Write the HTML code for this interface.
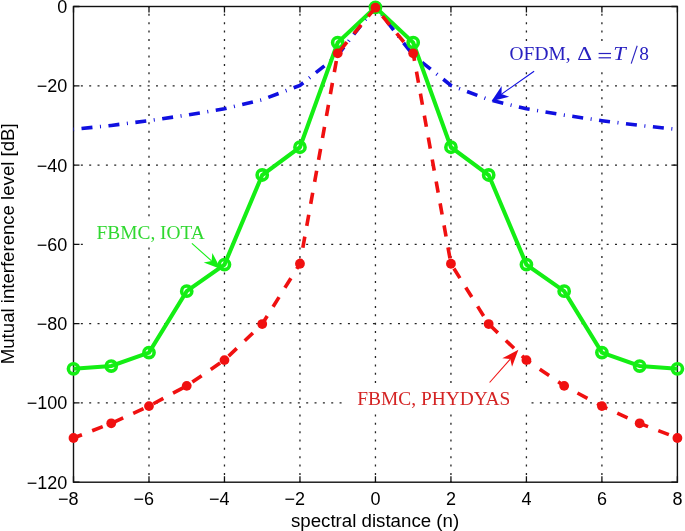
<!DOCTYPE html><html><head><meta charset="utf-8"><style>html,body{margin:0;padding:0;background:#fff;overflow:hidden}svg{display:block;will-change:transform}</style></head><body>
<svg width="685" height="531" viewBox="0 0 685 531">
<rect width="685" height="531" fill="#fff"/>
<g stroke="#222" stroke-width="1.3" stroke-dasharray="2 6.346" stroke-dashoffset="1" fill="none"><line x1="148.99" y1="6.5" x2="148.99" y2="482.2"/><line x1="224.47" y1="6.5" x2="224.47" y2="482.2"/><line x1="299.96" y1="6.5" x2="299.96" y2="482.2"/><line x1="375.45" y1="6.5" x2="375.45" y2="482.2"/><line x1="450.94" y1="6.5" x2="450.94" y2="482.2"/><line x1="526.42" y1="6.5" x2="526.42" y2="482.2"/><line x1="601.91" y1="6.5" x2="601.91" y2="482.2"/><line x1="73.5" y1="85.78" x2="677.4" y2="85.78"/><line x1="73.5" y1="165.07" x2="677.4" y2="165.07"/><line x1="73.5" y1="244.35" x2="677.4" y2="244.35"/><line x1="73.5" y1="323.63" x2="677.4" y2="323.63"/><line x1="73.5" y1="402.92" x2="677.4" y2="402.92"/></g>
<rect x="86" y="219" width="133" height="27.5" fill="#fff"/>
<rect x="345" y="386" width="184" height="25" fill="#fff"/>
<rect x="500" y="43" width="158" height="27" fill="#fff"/>
<path d="M73.50,482.2v-6M73.50,6.5v6M148.99,482.2v-6M148.99,6.5v6M224.47,482.2v-6M224.47,6.5v6M299.96,482.2v-6M299.96,6.5v6M375.45,482.2v-6M375.45,6.5v6M450.94,482.2v-6M450.94,6.5v6M526.42,482.2v-6M526.42,6.5v6M601.91,482.2v-6M601.91,6.5v6M677.40,482.2v-6M677.40,6.5v6M73.5,6.50h6M677.4,6.50h-6M73.5,85.78h6M677.4,85.78h-6M73.5,165.07h6M677.4,165.07h-6M73.5,244.35h6M677.4,244.35h-6M73.5,323.63h6M677.4,323.63h-6M73.5,402.92h6M677.4,402.92h-6M73.5,482.20h6M677.4,482.20h-6" stroke="#111" stroke-width="1.3" fill="none"/>
<rect x="73.5" y="6.5" width="603.90" height="475.70" stroke="#111" stroke-width="1.4" fill="none"/>
<g font-family="Liberation Sans" font-size="18" fill="#000"><text x="67.3" y="12.95" text-anchor="end">0</text><text x="67.3" y="92.23" text-anchor="end">&#8722;20</text><text x="67.3" y="171.52" text-anchor="end">&#8722;40</text><text x="67.3" y="250.80" text-anchor="end">&#8722;60</text><text x="67.3" y="330.08" text-anchor="end">&#8722;80</text><text x="67.3" y="409.37" text-anchor="end">&#8722;100</text><text x="67.3" y="488.65" text-anchor="end">&#8722;120</text><text x="68.50" y="504.8" text-anchor="end">&#8722;</text><text x="73.50" y="504.8" text-anchor="middle">8</text><text x="143.99" y="504.8" text-anchor="end">&#8722;</text><text x="148.99" y="504.8" text-anchor="middle">6</text><text x="219.47" y="504.8" text-anchor="end">&#8722;</text><text x="224.47" y="504.8" text-anchor="middle">4</text><text x="294.96" y="504.8" text-anchor="end">&#8722;</text><text x="299.96" y="504.8" text-anchor="middle">2</text><text x="375.45" y="504.8" text-anchor="middle">0</text><text x="450.94" y="504.8" text-anchor="middle">2</text><text x="526.42" y="504.8" text-anchor="middle">4</text><text x="601.91" y="504.8" text-anchor="middle">6</text><text x="677.40" y="504.8" text-anchor="middle">8</text></g>
<text x="375.05" y="527" text-anchor="middle" font-family="Liberation Sans" font-size="18.7" fill="#000">spectral distance (n)</text>
<text transform="translate(13.9,243.8) rotate(-90)" x="0" y="0" text-anchor="middle" font-family="Liberation Sans" font-size="18.6" fill="#000">Mutual interference level [dB]</text>
<polyline points="73.50,129.39 111.24,125.42 148.99,120.67 186.73,115.12 224.47,108.78 262.22,99.66 299.96,85.39 337.71,55.26 375.45,6.50 413.19,55.26 450.94,85.39 488.68,99.66 526.42,108.78 564.17,115.12 601.91,120.67 639.66,125.42 677.40,129.39" fill="none" stroke="#1010e0" stroke-width="3.6" stroke-dasharray="11 7.55 1 7.55" stroke-dashoffset="19.05"/>
<polyline points="73.50,368.82 111.24,366.05 148.99,352.57 186.73,291.13 224.47,264.57 262.22,174.98 299.96,147.23 337.71,42.57 375.45,7.29 413.19,42.57 450.94,147.23 488.68,174.98 526.42,264.57 564.17,291.13 601.91,352.57 639.66,366.05 677.40,368.82" fill="none" stroke="#14ee14" stroke-width="4.1" stroke-linejoin="miter"/>
<g fill="none" stroke="#14ee14" stroke-width="3.6"><circle cx="73.50" cy="368.82" r="5.1"/><circle cx="111.24" cy="366.05" r="5.1"/><circle cx="148.99" cy="352.57" r="5.1"/><circle cx="186.73" cy="291.13" r="5.1"/><circle cx="224.47" cy="264.57" r="5.1"/><circle cx="262.22" cy="174.98" r="5.1"/><circle cx="299.96" cy="147.23" r="5.1"/><circle cx="337.71" cy="42.57" r="5.1"/><circle cx="375.45" cy="7.29" r="5.1"/><circle cx="413.19" cy="42.57" r="5.1"/><circle cx="450.94" cy="147.23" r="5.1"/><circle cx="488.68" cy="174.98" r="5.1"/><circle cx="526.42" cy="264.57" r="5.1"/><circle cx="564.17" cy="291.13" r="5.1"/><circle cx="601.91" cy="352.57" r="5.1"/><circle cx="639.66" cy="366.05" r="5.1"/><circle cx="677.40" cy="368.82" r="5.1"/></g>
<polyline points="73.50,438.00 111.24,423.33 148.99,406.09 186.73,385.87 224.47,360.10 262.22,324.03 299.96,263.77 337.71,53.28 375.45,7.69 413.19,53.28 450.94,263.77 488.68,324.03 526.42,360.10 564.17,385.87 601.91,406.09 639.66,423.33 677.40,438.00" fill="none" stroke="#f01010" stroke-width="3.6" stroke-dasharray="11.3 11.01" stroke-dashoffset="2.27"/>
<g fill="#f01010"><circle cx="73.50" cy="438.00" r="4.9"/><circle cx="111.24" cy="423.33" r="4.9"/><circle cx="148.99" cy="406.09" r="4.9"/><circle cx="186.73" cy="385.87" r="4.9"/><circle cx="224.47" cy="360.10" r="4.9"/><circle cx="262.22" cy="324.03" r="4.9"/><circle cx="299.96" cy="263.77" r="4.9"/><circle cx="337.71" cy="53.28" r="4.9"/><circle cx="375.45" cy="7.69" r="4.9"/><circle cx="413.19" cy="53.28" r="4.9"/><circle cx="450.94" cy="263.77" r="4.9"/><circle cx="488.68" cy="324.03" r="4.9"/><circle cx="526.42" cy="360.10" r="4.9"/><circle cx="564.17" cy="385.87" r="4.9"/><circle cx="601.91" cy="406.09" r="4.9"/><circle cx="639.66" cy="423.33" r="4.9"/><circle cx="677.40" cy="438.00" r="4.9"/></g>
<line x1="534.10" y1="71.20" x2="501.56" y2="94.12" stroke="#1010e0" stroke-width="1.1"/><path d="M491.50,101.20L501.66,86.10L501.56,94.12L509.14,96.73Z" fill="#1010e0"/>
<line x1="191.90" y1="243.30" x2="211.54" y2="260.89" stroke="#14ee14" stroke-width="1.1"/><path d="M220.70,269.10L203.70,262.60L211.54,260.89L212.37,252.92Z" fill="#14ee14"/>
<line x1="489.60" y1="382.50" x2="510.27" y2="359.03" stroke="#f01010" stroke-width="1.1"/><path d="M518.40,349.80L512.04,366.85L510.27,359.03L502.29,358.26Z" fill="#f01010"/>
<text x="96.5" y="238.7" font-family="Liberation Serif" font-size="19.4" fill="#30d830">FBMC, IOTA</text>
<text x="357.3" y="405.3" font-family="Liberation Serif" font-size="19.4" fill="#d42424">FBMC, PHYDYAS</text>
<g fill="#2820c0" font-family="Liberation Serif" font-size="19.4"><text x="509.6" y="60">OFDM,</text><text transform="translate(577.3,60) scale(1.19,0.95)">&#916;</text><rect x="598.6" y="52.9" width="12.4" height="1.2"/><rect x="598.6" y="57.2" width="12.4" height="1.2"/><text x="613.2" y="60" font-style="italic" textLength="12.5" lengthAdjust="spacingAndGlyphs">T</text><path d="M631.2,63.6L637.2,45.8" stroke="#2820c0" stroke-width="1.1"/><text x="639.3" y="60">8</text></g>
</svg></body></html>
